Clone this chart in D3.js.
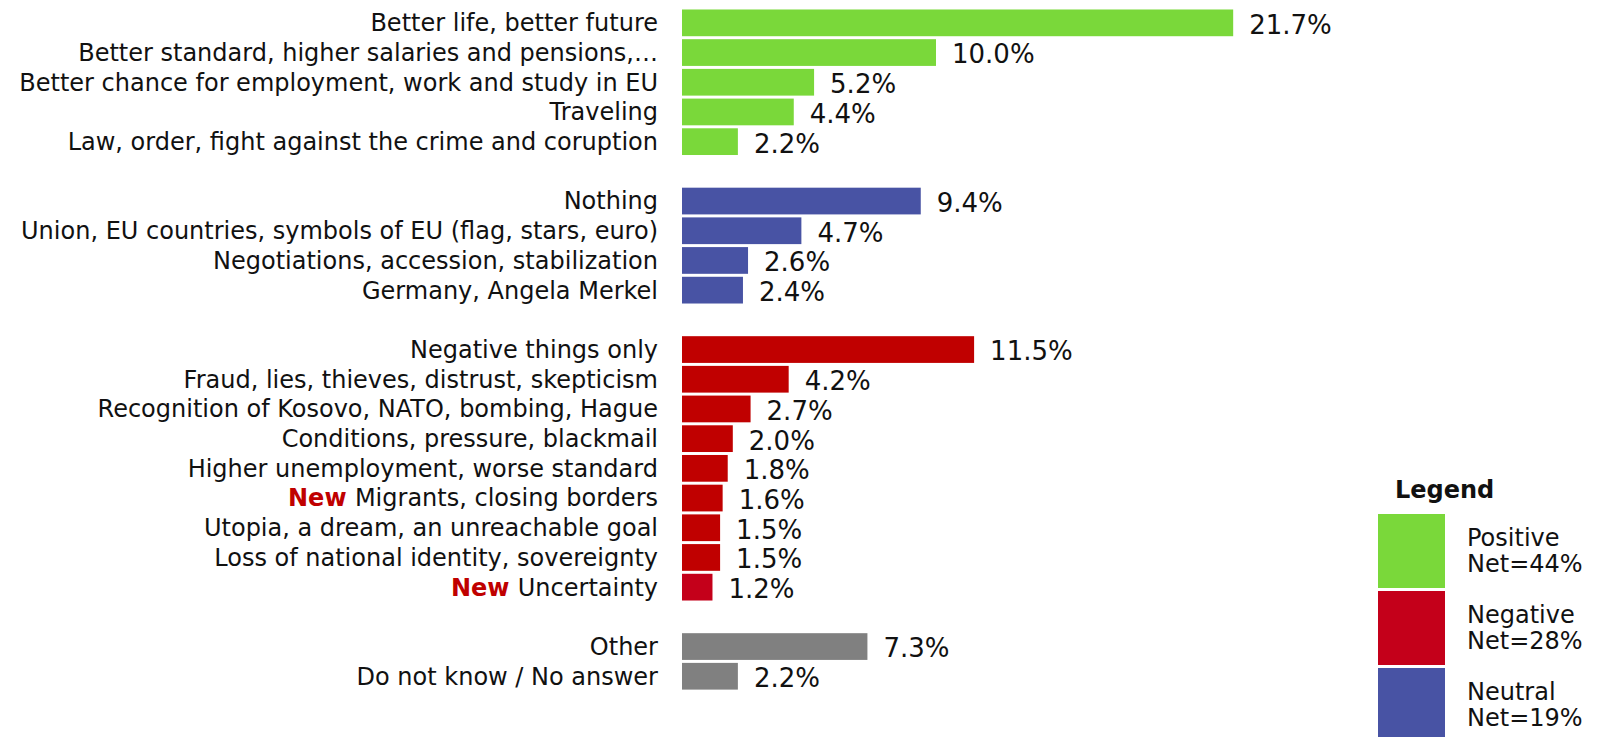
<!DOCTYPE html>
<html>
<head>
<meta charset="utf-8">
<script src="https://cdn.jsdelivr.net/npm/d3@7"></script>
<style>
  html, body { margin: 0; padding: 0; background: #fff; }
  svg { display: block; }
  .cat { font-family: 'DejaVu Sans', Verdana, sans-serif; font-size: 24px; fill: #111; }
  .val { font-family: 'DejaVu Sans', Verdana, sans-serif; font-size: 26px; fill: #111; }
  .leg { font-family: 'DejaVu Sans', Verdana, sans-serif; font-size: 24px; fill: #111; }
</style>
</head>
<body>
<svg id="chart" width="1599" height="737"></svg>
<script>
//
// Data
//

const positiveLabels = ['Better life, better future', 'Better standard, higher salaries and pensions,\u2026',
  'Better chance for employment, work and study in EU', 'Traveling', 'Law, order, fight against the crime and coruption'];
const positiveValues = [21.7, 10.0, 5.2, 4.4, 2.2];

const neutralLabels = ['Nothing', 'Union, EU countries, symbols of EU (flag, stars, euro)',
  'Negotiations, accession, stabilization', 'Germany, Angela Merkel'];
const neutralValues = [9.4, 4.7, 2.6, 2.4];

const negativeLabels = ['Negative things only', 'Fraud, lies, thieves, distrust, skepticism',
  'Recognition of Kosovo, NATO, bombing, Hague', 'Conditions, pressure, blackmail',
  'Higher unemployment, worse standard', 'Migrants, closing borders',
  'Utopia, a dream, an unreachable goal', 'Loss of national identity, sovereignty', 'Uncertainty'];
const negativeValues = [11.5, 4.2, 2.7, 2.0, 1.8, 1.6, 1.5, 1.5, 1.2];

const otherLabels = ['Other', 'Do not know / No answer'];
const otherValues = [7.3, 2.2];

const newItems = ['Migrants, closing borders', 'Uncertainty'];

const legendLabels = ['Positive', 'Negative', 'Neutral'];
const legendNets = ['Net=44%', 'Net=28%', 'Net=19%'];

//
// Layout
//

const colors = {positive: '#7ad83a', neutral: '#4853a4', negative: '#c00000', other: '#808080'};
const colorNew = '#c4001a';
const legendColors = ['#7ad83a', '#c4001a', '#4853a4'];

const groups = [
  {key: 'positive', labels: positiveLabels, values: positiveValues},
  {key: 'neutral', labels: neutralLabels, values: neutralValues},
  {key: 'negative', labels: negativeLabels, values: negativeValues},
  {key: 'other', labels: otherLabels, values: otherValues}
];

// one slot per bar, plus an empty slot between groups
const rows = [];
const slots = [];
groups.forEach((g, gi) => {
  if (gi > 0) slots.push('gap' + gi);
  g.labels.forEach((label, i) => {
    const id = g.key + i;
    slots.push(id);
    rows.push({id: id, group: g.key, label: label, value: g.values[i], isNew: newItems.includes(label)});
  });
});

const svg = d3.select('#chart');

const y = d3.scaleBand()
    .domain(slots)
    .range([8, 8 + slots.length * 29.7])
    .paddingInner(0.1)
    .paddingOuter(0.05);

const x = d3.scaleLinear()
    .domain([0, 25])
    .range([682, 682 + 25 * 25.4]);

const bars = svg.append('g');

bars.selectAll('rect')
  .data(rows)
  .join('rect')
    .attr('x', x(0))
    .attr('y', d => y(d.id))
    .attr('width', d => x(d.value) - x(0))
    .attr('height', y.bandwidth())
    .attr('fill', d => (d.isNew && d.label === 'Uncertainty') ? colorNew : colors[d.group]);

// category labels
const cats = svg.append('g').selectAll('text')
  .data(rows)
  .join('text')
    .attr('class', 'cat')
    .attr('x', 658)
    .attr('y', d => y(d.id) + y.bandwidth() / 2)
    .attr('dy', '0.35em')
    .attr('text-anchor', 'end');

cats.filter(d => d.isNew).append('tspan')
    .attr('font-weight', 'bold')
    .attr('fill', '#c00000')
    .text('New ');
cats.append('tspan').text(d => d.label);

// value labels
svg.append('g').selectAll('text')
  .data(rows)
  .join('text')
    .attr('class', 'val')
    .attr('x', d => x(d.value) + 16)
    .attr('y', d => y(d.id) + y.bandwidth() / 2)
    .attr('dy', '0.42em')
    .text(d => d.value.toFixed(1) + '%');

//
// Legend
//

const legend = svg.append('g').attr('transform', 'translate(1378,0)');

legend.append('text')
    .attr('class', 'leg')
    .attr('x', 17)
    .attr('y', 498)
    .attr('font-weight', 'bold')
    .attr('font-size', '23px')
    .text('Legend');

const items = legend.selectAll('g.item')
  .data(legendLabels)
  .join('g')
    .attr('class', 'item')
    .attr('transform', (d, i) => `translate(0,${514 + i * 77})`);

items.append('rect')
    .attr('width', 67)
    .attr('height', 74)
    .attr('fill', (d, i) => legendColors[i]);

items.append('text')
    .attr('class', 'leg')
    .attr('x', 89)
    .attr('y', 32)
    .text(d => d);

items.append('text')
    .attr('class', 'leg')
    .attr('x', 89)
    .attr('y', 58)
    .text((d, i) => legendNets[i]);
</script>
</body>
</html>
